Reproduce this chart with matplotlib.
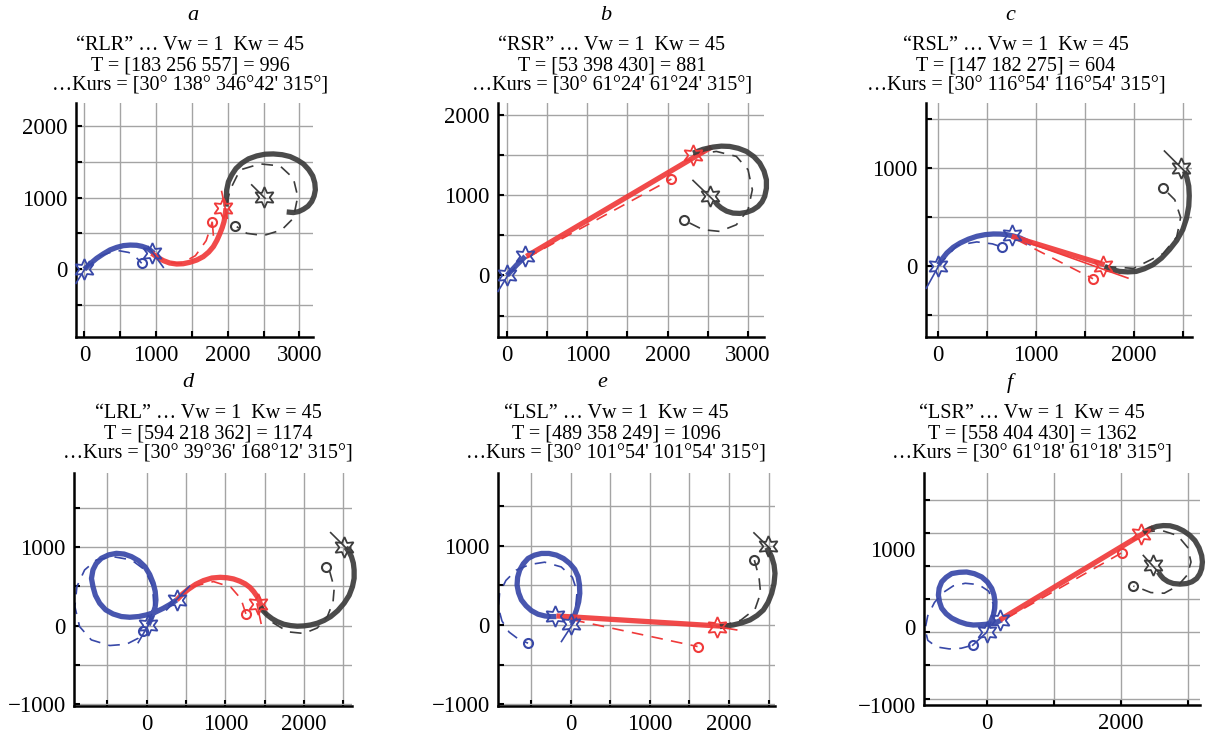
import matplotlib.pyplot as plt

plt.rcParams['font.family'] = ['Liberation Serif', 'DejaVu Serif']

BLUE = '#3848a8'
RED = '#f03a3a'
GRAY = '#3c3c3c'

# ---------------- panel a : RLR ----------------
a_title = ['“RLR” … Vw = 1  Kw = 45', 'T = [183 256 557] = 996', "…Kurs = [30° 138° 346°42' 315°]"]
a_blue = [(0, 0), (85, 80), (172, 153), (265, 215), (358, 270), (450, 305), (544, 330), (640, 338), (730, 335),
          (805, 320), (870, 298), (925, 262), (972, 223)]
a_blue_dash = [(0, 0), (230, 190), (450, 265), (620, 235), (720, 170), (800, 84)]
a_red = [(940, 223), (1020, 168), (1102, 121), (1190, 88), (1288, 74), (1380, 78), (1474, 98), (1570, 130),
         (1660, 177), (1735, 240), (1800, 316), (1850, 405), (1893, 502), (1925, 585), (1949, 665), (1965, 760),
         (1977, 851)]
a_red_dash = [(963, 223), (1150, 100), (1350, 80), (1550, 190), (1700, 400), (1786, 665)]
a_black = [(1977, 874), (1980, 1000), (1986, 1107), (2010, 1220), (2056, 1316), (2115, 1405), (2195, 1479),
           (2290, 1540), (2405, 1581), (2520, 1605), (2637, 1609), (2760, 1598), (2870, 1572), (2970, 1525),
           (3056, 1470), (3130, 1390), (3186, 1302), (3215, 1205), (3223, 1107), (3205, 1020), (3172, 944),
           (3120, 880), (3056, 837), (2990, 805), (2916, 791), (2823, 800)]
a_black_dash = [(1986, 898), (2033, 1107), (2172, 1386), (2451, 1470), (2730, 1442), (2916, 1270), (2977, 1014),
                (2916, 712), (2753, 549), (2498, 470), (2265, 502), (2126, 595)]
a_stars = [(0, 0, 'b'), (950, 230, 'b'), (1930, 851, 'r'), (2500, 1010, 'k')]
a_circles = [(800, 84, 'b'), (1786, 665, 'r'), (2102, 609, 'k')]
a_heads = [((-116, -195), (70, 107), 'b'), ((893, 316), (1102, 28), 'b'), ((1916, 1084), (1995, 712), 'r'),
           ((1786, 642), (1800, 479), 'r'), ((2335, 1177), (2521, 991), 'k')]

# ---------------- panel b : RSR ----------------
b_title = ['“RSR” … Vw = 1  Kw = 45', 'T = [53 398 430] = 881', "…Kurs = [30° 61°24' 61°24' 315°]"]
b_blue = [(0, 0), (120, 130), (228, 237)]
b_blue_dash = [(0, 0), (110, 110), (200, 190)]
b_red = [(241, 237), (2545, 1598)]
b_red_dash = [(241, 216), (2047, 1200)]
b_black = [(2316, 1523), (2440, 1570), (2565, 1598), (2670, 1610), (2773, 1606), (2880, 1583), (2981, 1544),
           (3075, 1478), (3147, 1399), (3200, 1300), (3230, 1191), (3230, 1085), (3209, 984), (3175, 915),
           (3126, 859), (3060, 815), (2981, 785), (2900, 772), (2815, 776), (2735, 800), (2669, 839), (2620, 880),
           (2586, 922)]
b_black_dash = [(2316, 1503), (2607, 1544), (2856, 1482), (3001, 1316), (3055, 1067), (3001, 818), (2856, 631),
                (2648, 548), (2441, 569), (2275, 652), (2200, 693)]
b_stars = [(0, 0, 'b'), (228, 237, 'b'), (2316, 1503, 'r'), (2524, 992, 'k')]
b_circles = [(2047, 1200, 'r'), (2200, 693, 'k')]
b_heads = [((-112, -199), (33, 37), 'b'), ((2316, 1183), (2586, 922), 'k')]

# ---------------- panel c : RSL ----------------
c_title = ['“RSL” … Vw = 1  Kw = 45', 'T = [147 182 275] = 604', "…Kurs = [30° 116°54' 116°54' 315°]"]
c_blue = [(10, 17), (50, 80), (95, 137), (160, 195), (231, 239), (315, 278), (400, 307), (485, 324), (569, 331),
          (640, 330), (705, 324), (775, 310), (841, 290), (900, 262), (959, 232)]
c_blue_dash = [(0, 0), (200, 215), (400, 250), (560, 230), (654, 198)]
c_red = [(756, 307), (1705, 17)]
c_red_dash = [(807, 273), (1586, -126)]
c_black = [(1705, 0), (1780, -33), (1858, -51), (1940, -56), (2027, -51), (2110, -24), (2197, 17), (2285, 85),
           (2366, 171), (2440, 265), (2502, 375), (2540, 490), (2563, 614), (2568, 720), (2563, 819),
           (2545, 900), (2519, 973)]
c_black_dash = [(1705, 0), (2000, -20), (2300, 130), (2440, 300), (2480, 500), (2420, 680), (2298, 802)]
c_stars = [(0, 0, 'b'), (756, 317, 'b'), (1688, 0, 'r'), (2485, 1000, 'k')]
c_circles = [(654, 198, 'b'), (1586, -126, 'r'), (2298, 802, 'k')]
c_heads = [((-115, -222), (27, 34), 'b'), ((841, 273), (1942, -119), 'r'), ((2315, 1177), (2553, 939), 'k')]

# ---------------- panel d : LRL ----------------
d_title = ['“LRL” … Vw = 1  Kw = 45', 'T = [594 218 362] = 1174', "…Kurs = [30° 39°36' 168°12' 315°]"]
d_blue = [(21, 8), (55, 80), (85, 157), (110, 240), (119, 326), (110, 435), (85, 538), (40, 650), (-21, 750),
          (-100, 825), (-191, 877), (-285, 910), (-383, 919), (-480, 900), (-574, 856), (-640, 790), (-681, 708),
          (-700, 600), (-681, 496), (-650, 385), (-596, 284), (-520, 200), (-426, 148), (-320, 115), (-213, 106),
          (-100, 115), (0, 136), (110, 170), (213, 220), (300, 270), (383, 326)]
d_blue_dash = [(21, 8), (94, 242), (77, 496), (-21, 708), (-191, 835), (-426, 877), (-638, 835), (-787, 708),
               (-885, 496), (-911, 242), (-851, -13), (-702, -182), (-468, -254), (-255, -237), (-106, -161),
               (-43, -68)]
d_red = [(383, 326), (455, 400), (532, 462), (625, 525), (723, 572), (830, 605), (936, 614), (1025, 608),
         (1106, 593), (1185, 565), (1255, 530), (1315, 485), (1362, 432), (1405, 370), (1438, 305), (1468, 199)]
d_red_dash = [(383, 326), (600, 500), (850, 560), (1070, 490), (1200, 340), (1264, 144)]
d_black = [(1447, 242), (1485, 185), (1532, 136), (1595, 88), (1660, 51), (1745, 17), (1830, 0), (1915, -8),
           (2000, -4), (2085, 8), (2170, 30), (2255, 65), (2340, 114), (2430, 190), (2511, 284), (2575, 385),
           (2617, 496), (2638, 600), (2638, 708), (2628, 795), (2604, 877), (2572, 940), (2532, 996)]
d_black_dash = [(1447, 242), (1600, 40), (1800, -80), (2000, -100), (2170, -30), (2300, 120), (2370, 300),
                (2385, 480), (2330, 680), (2277, 750)]
d_stars = [(21, 8, 'b'), (383, 326, 'b'), (1417, 275, 'r'), (2511, 1004, 'k')]
d_circles = [(-43, -68, 'b'), (1264, 144, 'r'), (2277, 750, 'k')]
d_heads = [((-106, -216), (85, 114), 'b'), ((255, 200), (545, 500), 'b'), ((1404, 275), (1455, 30), 'r'),
           ((2340, 1182), (2553, 970), 'k')]

# ---------------- panel e : LSL ----------------
e_title = ['“LSL” … Vw = 1  Kw = 45', 'T = [489 358 249] = 1096', "…Kurs = [30° 101°54' 101°54' 315°]"]
e_blue = [(8, 21), (40, 100), (72, 188), (100, 290), (114, 397), (110, 505), (93, 607), (50, 700), (-13, 774),
          (-90, 835), (-181, 879), (-275, 900), (-371, 900), (-460, 878), (-540, 837), (-600, 770), (-646, 690),
          (-672, 600), (-679, 502), (-660, 405), (-624, 314), (-565, 240), (-498, 180), (-415, 135), (-329, 113),
          (-255, 105), (-181, 105)]
e_blue_dash = [(0, 0), (60, 200), (80, 420), (20, 600), (-120, 730), (-330, 790), (-520, 760), (-690, 690),
               (-820, 560), (-900, 400), (-915, 220), (-870, 50), (-780, -90), (-660, -180), (-540, -230)]
e_red = [(-181, 113), (1992, -21)]
e_red_dash = [(30, 63), (1603, -272)]
e_black = [(1886, -21), (1970, -12), (2055, 0), (2160, 25), (2266, 63), (2355, 118), (2435, 188), (2495, 285),
           (2540, 397), (2570, 520), (2582, 649), (2570, 755), (2540, 858), (2510, 920), (2477, 975)]
e_black_dash = [(1886, -21), (2150, 60), (2330, 200), (2400, 400), (2380, 600), (2321, 816)]
e_stars = [(0, 8, 'b'), (-203, 113, 'b'), (1844, -21, 'r'), (2498, 996, 'k')]
e_circles = [(-540, -230, 'b'), (1603, -272, 'r'), (2321, 816, 'k')]
e_heads = [((-118, -209), (72, 84), 'b'), ((1844, -21), (2097, -63), 'r'), ((2316, 1159), (2519, 962), 'k')]

# ---------------- panel f : LSR ----------------
f_title = ['“LSR” … Vw = 1  Kw = 45', 'T = [558 404 430] = 1362', "…Kurs = [30° 61°18' 61°18' 315°]"]
f_blue = [(25, 90), (65, 175), (100, 264), (120, 365), (124, 463), (108, 565), (75, 662), (10, 760), (-75, 836),
          (-185, 885), (-299, 910), (-410, 905), (-522, 886), (-605, 830), (-672, 761), (-710, 665), (-721, 562),
          (-705, 460), (-672, 363), (-605, 280), (-522, 214), (-410, 160), (-299, 124), (-200, 110), (-100, 114),
          (0, 122), (100, 139), (165, 160), (224, 189)]
f_blue_dash = [(0, 0), (80, 200), (100, 420), (30, 620), (-120, 720), (-320, 740), (-500, 700), (-650, 600),
               (-780, 450), (-880, 250), (-920, 50), (-880, -120), (-750, -220), (-560, -250), (-380, -240),
               (-209, -194)]
f_red = [(199, 189), (2488, 1582)]
f_red_dash = [(299, 214), (2015, 1199)]
f_black = [(2338, 1507), (2437, 1560), (2537, 1597), (2636, 1610), (2736, 1607), (2840, 1578), (2935, 1532),
           (3030, 1465), (3109, 1383), (3170, 1275), (3209, 1159), (3220, 1060), (3209, 960), (3180, 880),
           (3134, 811), (3065, 763), (2985, 736), (2885, 727), (2786, 736), (2705, 765), (2637, 811), (2595, 860),
           (2562, 910)]
f_black_dash = [(2338, 1507), (2600, 1540), (2850, 1460), (3000, 1280), (3050, 1060), (2990, 860), (2850, 700),
                (2650, 590), (2450, 600), (2300, 660), (2189, 697)]
f_stars = [(0, 0, 'b'), (199, 189, 'b'), (2299, 1478, 'r'), (2488, 1020, 'k')]
f_circles = [(-209, -194, 'b'), (2015, 1199, 'r'), (2189, 697, 'k')]
f_heads = [((-209, -194), (0, 0), 'b'), ((2338, 1159), (2562, 910), 'k')]

COL = {'b': BLUE, 'r': RED, 'k': GRAY}
W, H = 1211, 736


def xy(pts):
    return [p[0] for p in pts], [p[1] for p in pts]


def panel(box, xlim, ylim, xgrid, ygrid, xlab, ylab, paths, stars, circles, heads):
    l, t, r, b = box
    ax = fig.add_axes([l / W, 1 - b / H, (r - l) / W, (b - t) / H])
    ax.set_xlim(xlim)
    ax.set_ylim(ylim)
    for spine in ['top', 'right']:
        ax.spines[spine].set_visible(False)
    for spine in ['left', 'bottom']:
        ax.spines[spine].set_linewidth(1.8)
    # keep minor ticks even where they sit on a labelled position
    ax.xaxis.remove_overlapping_locs = False
    ax.yaxis.remove_overlapping_locs = False
    ax.set_xticks(xgrid, minor=True)
    ax.set_yticks(ygrid, minor=True)
    ax.set_xticks([v for v, s in xlab])
    ax.set_xticklabels([s for v, s in xlab])
    ax.set_yticks([v for v, s in ylab])
    ax.set_yticklabels([s for v, s in ylab])
    ax.grid(which='minor', color='#a4a4a4', lw=1.0)
    ax.grid(which='major', visible=False)
    ax.tick_params(which='minor', direction='in', length=4, width=1.5, color='black')
    ax.tick_params(which='major', length=0, pad=6, labelsize=16.5)
    ax.set_axisbelow(True)

    for pts, c, style in paths:
        x, y = xy(pts)
        if style == 'dash':
            ax.plot(x, y, color=COL[c], lw=1.2, ls=(0, (7, 5)), clip_on=True, zorder=2)
        else:
            ax.plot(x, y, color=COL[c], lw=3.8, alpha=0.92, solid_capstyle='butt', solid_joinstyle='round',
                    clip_on=False, zorder=3)
    for p0, p1, c in heads:
        ax.plot([p0[0], p1[0]], [p0[1], p1[1]], color=COL[c], lw=1.2, zorder=4, clip_on=False)
    for x, y, c in stars:
        ax.plot(x, y, marker=(6, 1, 0), ms=15, mfc='none', mec=COL[c], mew=1.3, zorder=5, clip_on=False)
    for x, y, c in circles:
        ax.plot(x, y, marker='o', ms=6.5, mfc='none', mec=COL[c], mew=1.5, zorder=5)
    return ax


def title(letter, lines, xl, xc, y0):
    fig.text(xl / W, 1 - y0 / H, letter, ha='center', va='center', fontsize=16, style='italic')
    for i, s in enumerate(lines):
        fig.text(xc / W, 1 - (y0 + 30 + 20.5 * i) / H, s, ha='center', va='center', fontsize=14.5)


def k(vals):
    return [(v, '{:d}'.format(v).replace('-', '\u2212')) for v in vals]


fig = plt.figure(figsize=(W / 100, H / 100), dpi=100)

grid_a = list(range(0, 3001, 500))
panel((76, 103, 313, 337), (-116, 3190), (-944, 2319), grid_a, list(range(-500, 2001, 500)),
      k([0, 1000, 2000, 3000]), k([0, 1000, 2000]),
      [(a_blue_dash, 'b', 'dash'), (a_red_dash, 'r', 'dash'), (a_black_dash, 'k', 'dash'),
       (a_blue, 'b', 'solid'), (a_red, 'r', 'solid'), (a_black, 'k', 'solid')],
      a_stars, a_circles, a_heads)
title('a', a_title, 193, 190, 15)

panel((498, 103, 764, 337), (-112, 3200), (-767, 2147), grid_a, list(range(-500, 2001, 500)),
      k([0, 1000, 2000, 3000]), k([0, 1000, 2000]),
      [(b_blue_dash, 'b', 'dash'), (b_red_dash, 'r', 'dash'), (b_black_dash, 'k', 'dash'),
       (b_blue, 'b', 'solid'), (b_red, 'r', 'solid'), (b_black, 'k', 'solid')],
      b_stars, b_circles, b_heads)
title('b', b_title, 606, 612, 15)

panel((926, 103, 1192, 337), (-118, 2596), (-720, 1667), list(range(0, 2501, 500)), list(range(-500, 1501, 500)),
      k([0, 1000, 2000]), k([0, 1000]),
      [(c_blue_dash, 'b', 'dash'), (c_red_dash, 'r', 'dash'), (c_black_dash, 'k', 'dash'),
       (c_blue, 'b', 'solid'), (c_red, 'r', 'solid'), (c_black, 'k', 'solid')],
      c_stars, c_circles, c_heads)
title('c', c_title, 1010, 1016, 15)

panel((74, 473, 352, 706), (-922, 2611), (-1023, 1941), list(range(-500, 2501, 500)),
      list(range(-1000, 1501, 500)), k([0, 1000, 2000]), k([-1000, 0, 1000]),
      [(d_blue_dash, 'b', 'dash'), (d_red_dash, 'r', 'dash'), (d_black_dash, 'k', 'dash'),
       (d_blue, 'b', 'solid'), (d_red, 'r', 'solid'), (d_black, 'k', 'solid')],
      d_stars, d_circles, d_heads)
title('d', d_title, 188, 208, 383)

panel((498, 473, 775, 706), (-920, 2582), (-1021, 1913), list(range(-500, 2501, 500)),
      list(range(-1000, 1501, 500)), k([0, 1000, 2000]), k([-1000, 0, 1000]),
      [(e_blue_dash, 'b', 'dash'), (e_red_dash, 'r', 'dash'), (e_black_dash, 'k', 'dash'),
       (e_blue, 'b', 'solid'), (e_red, 'r', 'solid'), (e_black, 'k', 'solid')],
      e_stars, e_circles, e_heads)
title('e', e_title, 602, 616, 383)

# y labels of panel f sit off the grid in the source picture
panel((924, 473, 1200, 705), (-936, 3184), (-1055, 2403), list(range(0, 3001, 1000)),
      list(range(-1000, 2001, 500)), k([0, 2000]),
      [(-1096, '\u22121000'), (79, '0'), (1258, '1000')],
      [(f_blue_dash, 'b', 'dash'), (f_red_dash, 'r', 'dash'), (f_black_dash, 'k', 'dash'),
       (f_blue, 'b', 'solid'), (f_red, 'r', 'solid'), (f_black, 'k', 'solid')],
      f_stars, f_circles, f_heads)
title('f', f_title, 1010, 1032, 383)

fig.savefig('out.png', dpi=100, facecolor='white')
